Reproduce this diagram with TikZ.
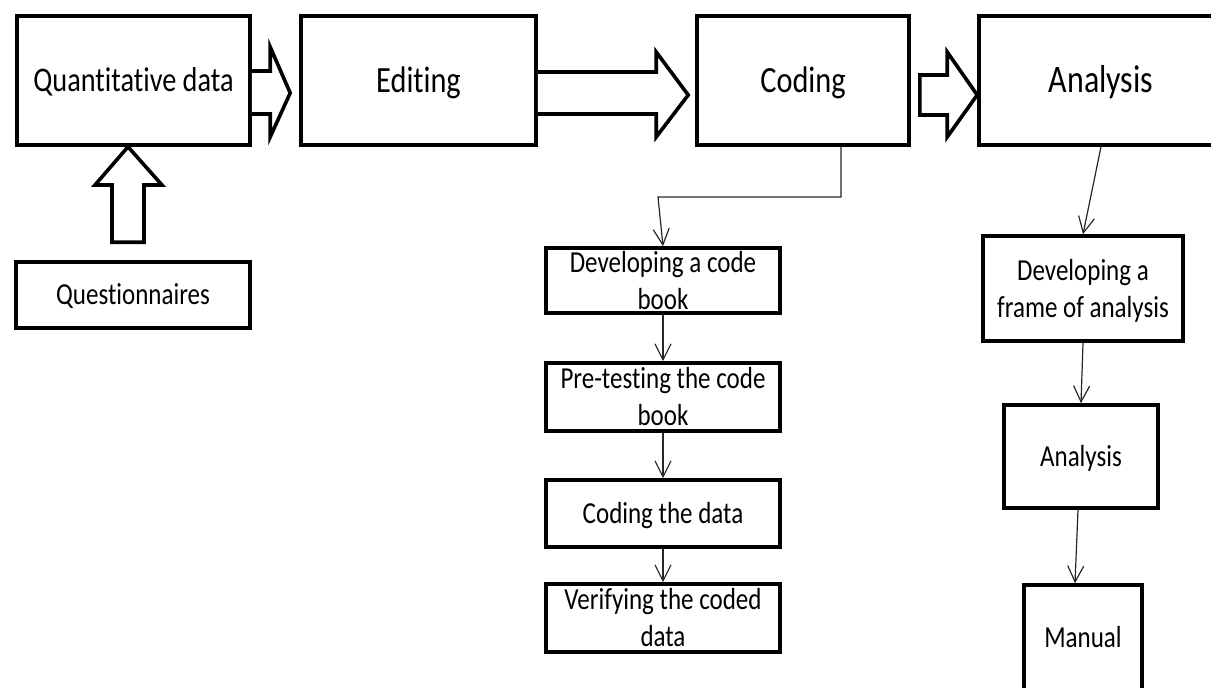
\documentclass[tikz,border=0pt]{standalone}
\usepackage{fontspec}
\setmainfont{Carlito}[FakeStretch=0.82,Ligatures=NoCommon]
\usetikzlibrary{arrows.meta,calc}

\begin{document}
\begin{tikzpicture}[x=1pt,y=-1pt,
  box/.style={draw,line width=3.6pt,inner sep=0pt,align=center},
  big/.style={font=\fontsize{37}{44}\selectfont,text height=23.5pt,text depth=0pt,minimum height=129pt},
  small/.style={font=\fontsize{30.5}{37}\selectfont},
  one/.style={text height=19.2pt,text depth=0pt},
  link/.style={line width=1.2pt,draw=black!85,-{Straight Barb[length=16pt,width=16pt,line width=1.2pt]}},
  blk/.style={draw,fill=white,line width=3.6pt,line join=miter}]
\useasboundingbox (0,0) rectangle (1211,688);
\clip (0,0) rectangle (1211,688);

% main stages
\node[box,big,minimum width=233pt,font=\fontsize{34.5}{44}\selectfont,text height=22pt] (q) at (133.5,80.5) {Quantitative data};
\node[box,big,minimum width=235pt] (ed) at (418.5,80.5) {Editing};
\node[box,big,minimum width=212pt] (co) at (803,80.5)   {Coding};
\node[box,big,minimum width=244pt,font=\fontsize{39}{44}\selectfont,text height=24.5pt] (an) at (1101,80.5) {Analysis};

% source
\node[box,small,one,minimum width=234pt,minimum height=66pt] (qs) at (133,295) {Questionnaires};

% coding steps
\node[box,small,minimum width=234pt,minimum height=65pt] (dc) at (663,280.5) {Developing a code\\book};
\node[box,small,minimum width=234pt,minimum height=68pt] (pt) at (663,397)   {Pre-testing the code\\book};
\node[box,small,one,minimum width=234pt,minimum height=67pt] (cd) at (663,513.5) {Coding the data};
\node[box,small,minimum width=234pt,minimum height=68pt] (vd) at (663,618)   {Verifying the coded\\data};

% analysis steps
\node[box,small,minimum width=200pt,minimum height=105pt] (df) at (1083,288.5) {Developing a\\\raisebox{0pt}[\height][0pt]{frame of analysis}};
\node[box,small,one,minimum width=154pt,minimum height=103pt] (a2) at (1081,456.5) {Analysis};
\node[box,small,one,minimum width=118pt,minimum height=106pt] (mn) at (1083,638) {Manual};

% block arrows between the stages
\draw[blk] let \p1=(q.east), \p2=(ed.west) in
  (\x1,71) -- (\x2-29,71) -- (\x2-29,47) -- (\x2-9,93) -- (\x2-29,137) -- (\x2-29,114) -- (\x1,114);
\draw[blk] let \p1=(ed.east), \p2=(co.west) in
  (\x1,72) -- (\x2-39,72) -- (\x2-39,52) -- (\x2-7,95) -- (\x2-39,137) -- (\x2-39,114) -- (\x1,114);
\draw[blk] let \p1=(co.east), \p2=(an.west) in
  (\x1+9,75) -- (\x2-30,75) -- (\x2-30,52) -- (\x2,95) -- (\x2-30,137) -- (\x2-30,115) -- (\x1+9,115) -- cycle;
\draw[blk] let \p1=(q.south), \p2=(qs.north) in
  (112,\y2+18pt) -- (112,185) -- (95,185) -- (128,\y1) -- (162,185) -- (144,185) -- (144,\y2+18pt) -- cycle;

% thin connectors
\coordinate (cbend) at (841,197);
\draw[link] ($(co.south)+(38,0)$) -- (cbend) -- (658,197) -- (dc.north);
\draw[link] (dc.south) -- (pt.north);
\draw[link] (pt.south) -- (cd.north);
\draw[link] (cd.south) -- (vd.north);
\draw[link] (an.south) -- (df.north);
\draw[link] (df.south) -- (a2.north);
\draw[link] ($(a2.south)+(-3,0)$) -- ($(mn.north)+(-8,0)$);
\end{tikzpicture}
\end{document}
